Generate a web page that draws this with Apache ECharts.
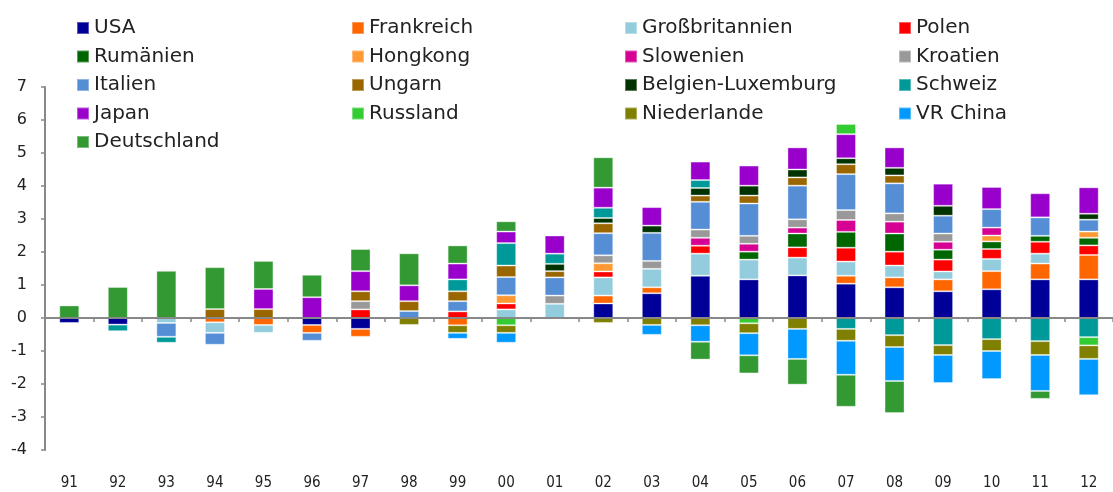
<!DOCTYPE html>
<html>
<head>
<meta charset="utf-8">
<script src="https://cdn.jsdelivr.net/npm/echarts@6/dist/echarts.min.js"></script>
<style>
  html, body { margin: 0; background: #fff; }
  #chart { width: 1113px; height: 492px; }
</style>
</head>
<body>
<div id="chart"></div>
<script>
// Jahre 1991 .. 2012
const years = ['91','92','93','94','95','96','97','98','99','00','01','02','03','04','05','06','07','08','09','10','11','12']

// Werte je Land (null = kein Beitrag)
const usa          = [-0.15,-0.2,null,null,null,-0.21,-0.33,null,null,null,null,0.44,0.75,1.28,1.17,1.29,1.04,0.93,0.81,0.87,1.17,1.17]
const frankreich   = [null,null,null,-0.13,-0.21,-0.24,-0.24,null,-0.22,null,null,0.24,0.18,null,null,null,0.24,0.3,0.36,0.55,0.48,0.74]
const grossbrit    = [null,null,-0.15,-0.32,-0.24,null,null,null,null,0.26,0.43,0.55,0.56,0.67,0.6,0.54,0.43,0.36,0.24,0.37,0.3,null]
const polen        = [null,null,null,null,null,null,0.26,null,0.2,0.18,null,0.18,null,0.24,null,0.31,0.42,0.42,0.36,0.3,0.36,0.29]
const rumaenien    = [null,null,null,null,null,null,null,null,null,null,null,null,null,null,0.24,0.42,0.48,0.55,0.3,0.23,0.18,0.23]
const hongkong     = [null,null,null,null,null,null,null,null,null,0.25,null,0.25,null,null,null,null,null,null,null,0.18,null,0.19]
const slowenien    = [null,null,null,null,null,null,null,null,null,null,null,null,null,0.24,0.24,0.18,0.36,0.36,0.24,0.24,null,null]
const kroatien     = [null,null,null,null,null,null,0.25,null,null,null,0.25,0.24,0.24,0.25,0.24,0.25,0.3,0.25,0.25,null,null,null]
const italien      = [null,null,-0.42,-0.36,null,-0.24,null,0.21,0.31,0.55,0.55,0.67,0.85,0.84,0.98,1.02,1.09,0.91,0.54,0.56,0.56,0.36]
const ungarn       = [null,null,null,0.27,0.27,null,0.3,0.3,0.3,0.35,0.19,0.3,null,0.19,0.24,0.25,0.3,0.24,null,null,null,null]
const belgienLux   = [null,null,null,null,null,null,null,null,null,null,0.22,0.16,0.22,0.23,0.3,0.24,0.18,0.23,0.3,null,null,0.18]
const schweiz      = [null,-0.2,-0.18,null,null,null,null,null,0.36,0.68,0.31,0.31,null,0.24,null,null,-0.33,-0.52,-0.82,-0.64,-0.7,-0.58]
const japan        = [null,null,null,null,0.61,0.63,0.61,0.48,0.48,0.35,0.55,0.61,0.56,0.56,0.61,0.67,0.73,0.62,0.67,0.67,0.73,0.8]
const russland     = [null,null,null,null,null,null,null,null,null,-0.22,null,null,null,null,-0.16,null,0.31,null,null,null,null,-0.25]
const niederlande  = [null,null,null,null,null,null,null,-0.21,-0.23,-0.23,null,-0.15,-0.21,-0.22,-0.3,-0.33,-0.36,-0.36,-0.3,-0.36,-0.42,-0.41]
const vrChina      = [null,null,null,null,null,null,null,null,-0.18,-0.3,null,null,-0.3,-0.5,-0.67,-0.91,-1.03,-1.03,-0.85,-0.85,-1.09,-1.1]
const deutschland  = [0.38,0.94,1.43,1.27,0.85,0.68,0.67,0.97,0.55,0.31,null,0.92,null,-0.54,-0.55,-0.78,-0.97,-0.97,null,null,-0.24,null]

const countries = [
  ['USA', usa, '#000099'],
  ['Frankreich', frankreich, '#ff6600'],
  ['Großbritannien', grossbrit, '#93cddd'],
  ['Polen', polen, '#ff0000'],
  ['Rumänien', rumaenien, '#006600'],
  ['Hongkong', hongkong, '#ff9933'],
  ['Slowenien', slowenien, '#d60093'],
  ['Kroatien', kroatien, '#999999'],
  ['Italien', italien, '#558ed5'],
  ['Ungarn', ungarn, '#996600'],
  ['Belgien-Luxemburg', belgienLux, '#003300'],
  ['Schweiz', schweiz, '#009999'],
  ['Japan', japan, '#9900cc'],
  ['Russland', russland, '#33cc33'],
  ['Niederlande', niederlande, '#808000'],
  ['VR China', vrChina, '#0099ff'],
  ['Deutschland', deutschland, '#339933'],
]

// Legende in 4 Spalten
const legendCols = [
  ['USA', 'Rumänien', 'Italien', 'Japan', 'Deutschland'],
  ['Frankreich', 'Hongkong', 'Ungarn', 'Russland'],
  ['Großbritannien', 'Slowenien', 'Belgien-Luxemburg', 'Niederlande'],
  ['Polen', 'Kroatien', 'Schweiz', 'VR China'],
]
const legendLeft = [76, 351, 624, 898]

const chart = echarts.init(document.getElementById('chart'))

chart.setOption({
  animation: false,
  textStyle: { fontFamily: 'DejaVu Sans' },
  legend: legendCols.map((names, i) => ({
    data: names,
    orient: 'vertical',
    left: legendLeft[i],
    top: 18,
    icon: 'rect',
    itemWidth: 12,
    itemHeight: 12,
    itemGap: 8.5,
    padding: 0,
    selectedMode: false,
    textStyle: { fontSize: 20, lineHeight: 20, color: '#222' },
  })),
  grid: { left: 45, right: -13, top: 87, bottom: 42 },
  xAxis: [
    {
      type: 'category',
      data: years,
      axisLine: { show: false, onZero: false },
      axisTick: { show: false },
      axisLabel: { margin: 26, fontSize: 15, color: '#222', fontFamily: 'DejaVu Sans Condensed' },
    },
    {
      type: 'category',
      data: years,
      position: 'bottom',
      z: 10,
      axisLine: { onZero: true, lineStyle: { color: '#888', width: 2 } },
      axisTick: { show: true, length: 4, lineStyle: { color: '#888', width: 1.5 } },
      axisLabel: { show: false },
    },
  ],
  yAxis: {
    type: 'value',
    min: -4, max: 7, interval: 1,
    axisLine: { show: true, lineStyle: { color: '#888', width: 2 } },
    axisTick: { show: true, length: 4, lineStyle: { color: '#888', width: 1.5 } },
    splitLine: { show: false },
    axisLabel: { margin: 18, fontSize: 16, color: '#222' },
  },
  series: countries.map(([name, data, color]) => ({
    name,
    type: 'bar',
    stack: 'total',
    barWidth: 20,
    data,
    itemStyle: { color, borderColor: 'rgba(255,255,255,0.35)', borderWidth: 1 },
  })),
})
</script>
</body>
</html>
